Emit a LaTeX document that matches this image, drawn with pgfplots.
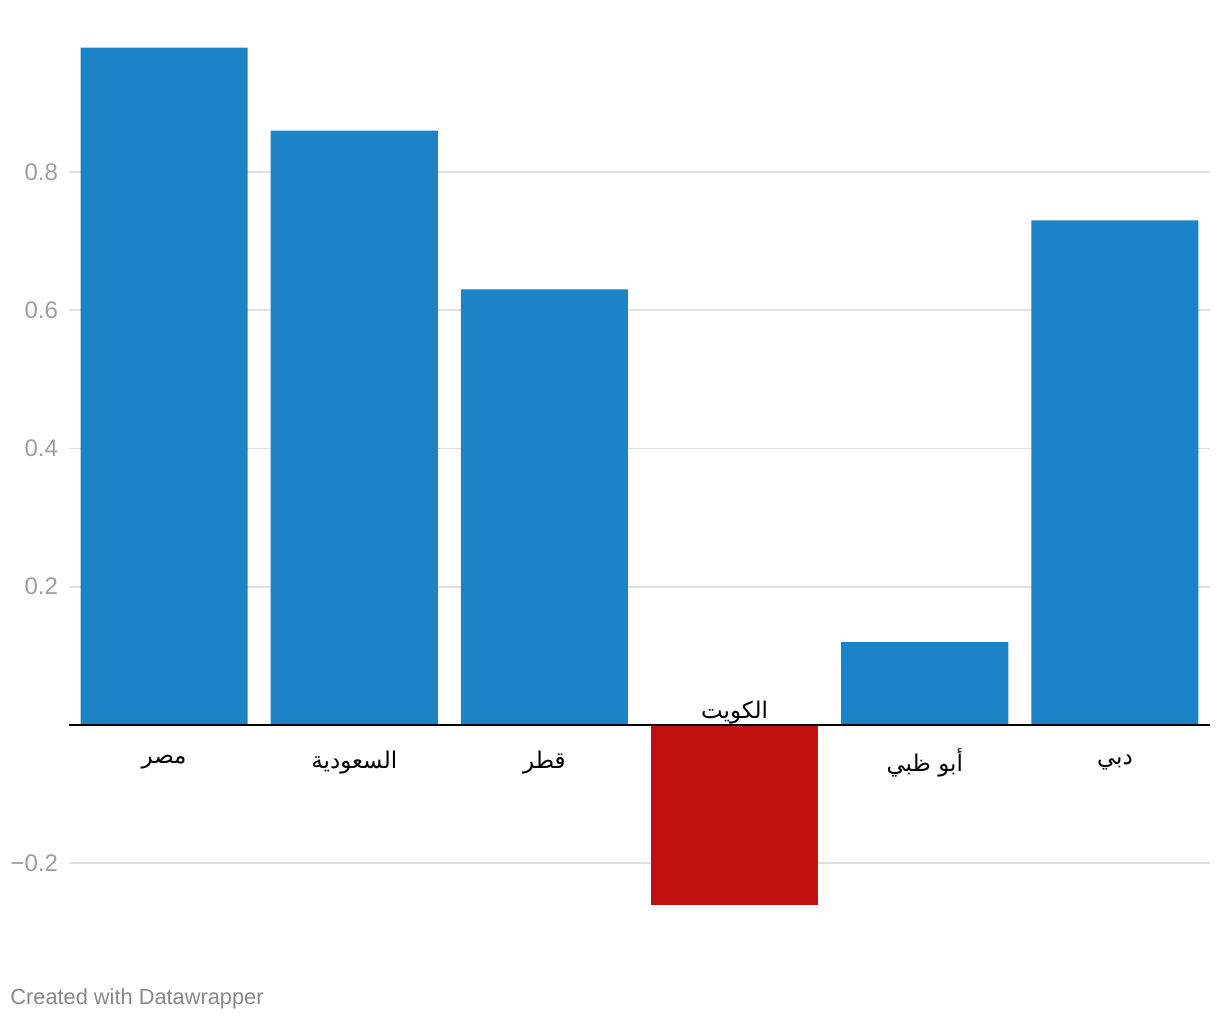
\documentclass[border=0pt]{standalone}
\usepackage{pgfplots}
\pgfplotsset{compat=1.18}
\usepackage{fontspec}
\setmainfont{Liberation Sans}
\newfontfamily\arabicfont[Script=Arabic]{DejaVu Sans}
\TeXXeTstate=1
\definecolor{barblue}{RGB}{28,131,199}
\definecolor{barred}{RGB}{192,16,16}
\definecolor{gridgray}{RGB}{224,224,224}
\definecolor{ticklab}{RGB}{158,158,158}
\definecolor{footgray}{RGB}{136,136,136}
\begin{document}
\begin{tikzpicture}
\useasboundingbox (0,0) rectangle (610pt,-510pt);
\begin{axis}[
  at={(34.5pt,-16.875pt)}, anchor=north west,
  scale only axis, width=570.5pt, height=449.3pt,
  xmin=-0.5, xmax=5.5, ymin=-0.3, ymax=1.0,
  axis line style={draw=none},
  major tick length=0pt,
  ytick={-0.2,0.2,0.4,0.6,0.8},
  yticklabels={−0.2,0.2,0.4,0.6,0.8},
  yticklabel style={font=\fontsize{12}{14}\selectfont, text=ticklab, anchor=east, xshift=-2pt},
  ymajorgrids, grid style={gridgray, line width=0.8pt},
  xtick={0,1,2,4,5},
  xticklabels={{\arabicfont\beginR مصر\endR},{\arabicfont\beginR السعودية\endR},{\arabicfont\beginR قطر\endR},{\arabicfont\beginR أبو ظبي\endR},{\arabicfont\beginR دبي\endR}},
  xticklabel style={font=\fontsize{11.5}{13}\selectfont, anchor=center, yshift=85pt},
  extra x ticks={3},
  extra x tick labels={{\arabicfont\beginR الكويت\endR}},
  extra x tick style={xticklabel style={yshift=25pt}, grid=none},
  ybar, bar width=83.5pt,
  clip=false,
]
\addplot[fill=barblue, draw=none, bar shift=0pt] coordinates {(0,0.98) (1,0.86) (2,0.63) (4,0.12) (5,0.73)};
\addplot[fill=barred, draw=none, bar shift=0pt] coordinates {(3,-0.26)};
\draw[black, line width=1pt] (axis cs:-0.5,0) -- (axis cs:5.5,0);
\end{axis}
\node[anchor=base west, font=\fontsize{10.9}{12}\selectfont, text=footgray, inner sep=0pt] at (5pt,-502pt) {Created with Datawrapper};
\end{tikzpicture}
\end{document}
